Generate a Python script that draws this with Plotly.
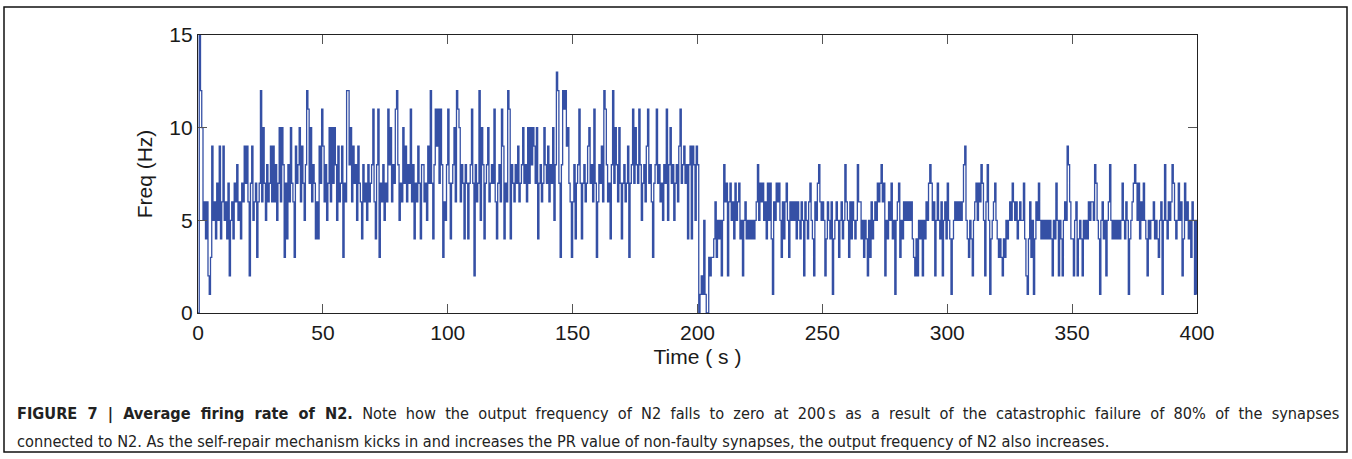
import plotly.graph_objects as go

sample_step = 0.5
s000 = [0, 15, 12, 10, 5, 6, 4, 6, 2, 1, 3, 9, 5, 6, 4, 7, 5, 9, 4, 6]
s010 = [9, 5, 6, 4, 7, 2, 5, 6, 4, 7, 6, 8, 5, 6, 4, 7, 6, 9, 7, 9]
s020 = [6, 2, 7, 9, 5, 6, 7, 3, 6, 7, 12, 6, 10, 7, 5, 8, 6, 7, 9, 6]
s030 = [9, 6, 8, 5, 7, 10, 6, 10, 8, 3, 7, 4, 8, 6, 10, 7, 6, 3, 9, 7]
s040 = [8, 10, 6, 9, 7, 5, 8, 12, 11, 7, 10, 6, 8, 7, 4, 6, 4, 9, 7, 11]
s050 = [9, 6, 8, 5, 7, 10, 6, 10, 7, 10, 8, 5, 9, 6, 7, 9, 3, 7, 6, 12]
s060 = [12, 8, 10, 6, 9, 7, 8, 5, 9, 7, 6, 4, 8, 6, 7, 5, 8, 6, 7, 8]
s070 = [11, 6, 4, 8, 11, 3, 7, 6, 8, 5, 7, 6, 11, 8, 10, 6, 8, 7, 11, 12]
s080 = [8, 5, 7, 6, 10, 7, 9, 6, 8, 7, 11, 6, 8, 4, 7, 6, 9, 7, 4, 8]
s090 = [8, 6, 7, 5, 9, 7, 12, 7, 4, 8, 11, 9, 11, 7, 11, 8, 3, 6, 5, 8]
s100 = [11, 7, 4, 7, 8, 10, 6, 12, 11, 10, 6, 8, 7, 4, 8, 7, 4, 7, 8, 11]
s110 = [7, 2, 8, 6, 7, 12, 5, 10, 8, 4, 7, 8, 10, 6, 7, 8, 7, 11, 6, 4]
s120 = [7, 8, 6, 11, 9, 4, 7, 6, 12, 11, 4, 8, 7, 6, 8, 7, 9, 6, 7, 8]
s130 = [10, 7, 8, 6, 10, 7, 10, 8, 10, 9, 7, 10, 4, 7, 8, 6, 7, 10, 8, 7]
s140 = [9, 6, 8, 7, 10, 5, 8, 13, 12, 7, 3, 8, 12, 11, 12, 9, 10, 7, 6, 3]
s150 = [6, 8, 4, 7, 8, 11, 7, 4, 7, 8, 6, 7, 9, 10, 7, 8, 6, 11, 7, 3]
s160 = [6, 8, 7, 9, 6, 12, 11, 8, 6, 7, 4, 8, 12, 7, 10, 8, 6, 10, 7, 4]
s170 = [7, 8, 6, 7, 9, 3, 7, 8, 11, 7, 10, 8, 7, 11, 8, 5, 7, 8, 6, 9]
s180 = [11, 7, 8, 6, 3, 7, 8, 11, 7, 8, 6, 7, 5, 8, 7, 11, 5, 8, 10, 7]
s190 = [8, 5, 7, 8, 6, 9, 11, 7, 8, 9, 7, 8, 4, 8, 9, 4, 9, 8, 5, 9]
s200 = [8, 0, 1, 2, 1, 5, 1, 0, 0, 3, 2, 3, 3, 4, 6, 3, 5, 4, 5, 2]
s210 = [5, 8, 6, 7, 2, 6, 7, 5, 6, 4, 7, 5, 6, 7, 4, 5, 2, 5, 6, 4]
s220 = [5, 4, 5, 4, 5, 4, 5, 6, 8, 5, 7, 6, 7, 5, 6, 4, 7, 5, 7, 4]
s230 = [1, 6, 5, 7, 6, 7, 5, 3, 6, 4, 6, 7, 5, 3, 6, 5, 6, 5, 6, 4]
s240 = [6, 5, 4, 6, 5, 2, 6, 5, 4, 6, 7, 5, 4, 2, 6, 5, 7, 8, 6, 5]
s250 = [6, 5, 2, 4, 6, 5, 4, 6, 1, 4, 5, 6, 5, 3, 5, 6, 4, 5, 8, 6]
s260 = [5, 3, 6, 4, 6, 5, 4, 5, 8, 6, 6, 4, 5, 3, 5, 4, 2, 5, 3, 6]
s270 = [4, 5, 6, 5, 7, 6, 7, 8, 6, 7, 2, 5, 4, 6, 5, 7, 4, 5, 1, 5]
s280 = [6, 7, 3, 5, 4, 6, 5, 6, 5, 6, 5, 6, 4, 3, 2, 4, 2, 5, 4, 5]
s290 = [2, 5, 4, 6, 5, 7, 8, 7, 5, 6, 2, 5, 7, 5, 4, 6, 2, 5, 6, 4]
s300 = [7, 5, 4, 1, 4, 5, 6, 5, 6, 5, 6, 5, 6, 8, 9, 5, 4, 3, 5, 4]
s310 = [2, 5, 6, 7, 5, 7, 6, 8, 7, 5, 2, 6, 8, 5, 1, 4, 5, 6, 7, 5]
s320 = [4, 3, 4, 3, 2, 4, 3, 5, 4, 5, 6, 5, 7, 6, 5, 6, 4, 5, 6, 5]
s330 = [5, 7, 4, 2, 1, 4, 6, 3, 5, 1, 4, 6, 5, 7, 5, 4, 5, 4, 5, 4]
s340 = [5, 4, 5, 4, 2, 5, 4, 7, 5, 2, 5, 4, 2, 5, 6, 5, 9, 8, 6, 4]
s350 = [4, 2, 5, 6, 2, 4, 5, 4, 2, 5, 4, 5, 4, 6, 5, 6, 6, 5, 8, 7]
s360 = [5, 4, 1, 5, 6, 4, 5, 2, 5, 6, 8, 5, 4, 5, 4, 5, 4, 5, 4, 5]
s370 = [7, 5, 4, 6, 5, 1, 4, 5, 6, 7, 8, 7, 5, 7, 4, 6, 5, 7, 5, 4]
s380 = [2, 5, 4, 5, 5, 6, 4, 5, 4, 3, 5, 6, 1, 5, 8, 5, 4, 6, 5, 6]
s390 = [8, 7, 5, 4, 5, 7, 5, 6, 2, 4, 7, 5, 6, 4, 5, 3, 6, 5, 1, 5]
s400 = [1]

x_ticks = [0, 50, 100, 150, 200, 250, 300, 350, 400]
y_ticks = [0, 5, 10, 15]
x_title = "Time ( s )"
y_title = "Freq (Hz)"
caption_bold = "FIGURE 7 | Average firing rate of N2."
caption_1 = (" Note how the output frequency of N2 falls to zero at 200\u2009s as a result of the "
             "catastrophic failure of 80% of the synapses")
caption_2 = ("connected to N2. As the self-repair mechanism kicks in and increases the PR value of "
             "non-faulty synapses, the output frequency of N2 also increases.")

segments = [s000, s010, s020, s030, s040, s050, s060, s070, s080, s090,
            s100, s110, s120, s130, s140, s150, s160, s170, s180, s190,
            s200, s210, s220, s230, s240, s250, s260, s270, s280, s290,
            s300, s310, s320, s330, s340, s350, s360, s370, s380, s390, s400]
freq = [v for seg in segments for v in seg]
time = [i * sample_step for i in range(len(freq))]

# ---- figure (page pixels; body margin removed below) ----
W, H = 1352, 459
plot_left, plot_right, plot_top, plot_bottom = 198, 1197, 35, 313
L, R, T, B = plot_left, W - plot_right, plot_top, H - plot_bottom
pw, ph = W - L - R, H - T - B


def px(p):
    return (p - L) / pw


def py(q):
    return (H - B - q) / ph


fig = go.Figure()
fig.add_trace(go.Scatter(x=time, y=freq, mode="lines", line_shape="hv",
                         line=dict(color="#3550A5", width=1.3), showlegend=False,
                         hoverinfo="skip"))

txt = "#1a1a1a"
font_main = "Liberation Sans, Arial, sans-serif"
axis_common = dict(showgrid=False, zeroline=False, showline=True, linecolor="#222222",
                   linewidth=1.3, mirror="ticks", ticks="inside", ticklen=9,
                   tickcolor="#555555", tickwidth=1.3,
                   tickfont=dict(family=font_main, size=21, color=txt))

fig.update_xaxes(range=[0, 400], tickvals=x_ticks, ticktext=[str(v) for v in x_ticks],
                 ticklabelstandoff=1,
                 title=dict(text=x_title, standoff=5,
                            font=dict(family=font_main, size=21, color=txt)),
                 **axis_common)
fig.update_yaxes(range=[0, 15], tickvals=y_ticks, ticktext=[str(v) for v in y_ticks],
                 title=dict(text=y_title, standoff=10,
                            font=dict(family=font_main, size=21, color=txt)),
                 **axis_common)


def justify(s):
    # the first caption line is justified in the reference: widen the word gaps
    return s.replace(" ", " \u00a0")


cap_font = dict(family="Liberation Sans Narrow, DejaVu Sans Condensed, Arial Narrow, sans-serif",
                size=16.2, color="#222222")
fig.add_annotation(xref="paper", yref="paper", x=px(15), y=py(414), xanchor="left",
                   yanchor="middle", showarrow=False, align="left", font=cap_font,
                   text="<b>" + justify(caption_bold) + "</b>" + justify(caption_1))
fig.add_annotation(xref="paper", yref="paper", x=px(15), y=py(441), xanchor="left",
                   yanchor="middle", showarrow=False, align="left", font=cap_font,
                   text=caption_2)

# outer frame of the figure
fig.add_shape(type="rect", xref="paper", yref="paper", x0=px(4), x1=px(1347),
              y0=py(452), y1=py(7), line=dict(color="#111111", width=1.5),
              fillcolor="rgba(0,0,0,0)", layer="below")

fig.update_layout(width=W, height=H, margin=dict(l=L, r=R, t=T, b=B, autoexpand=False),
                  paper_bgcolor="white", plot_bgcolor="white")

fig.write_html("out.html", config={"displayModeBar": False},
               post_script="document.body.style.margin='0';document.body.style.overflow='hidden';")
